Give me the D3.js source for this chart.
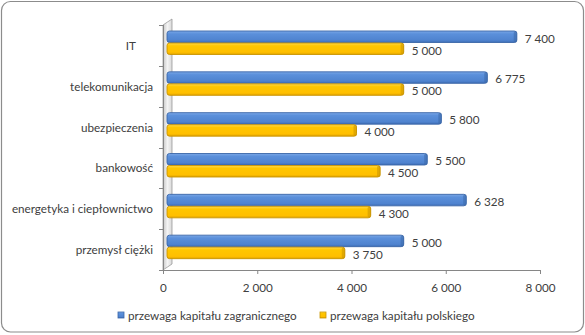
<!DOCTYPE html>
<html>
<head>
<meta charset="utf-8">
<script src="https://cdn.jsdelivr.net/npm/d3@7"></script>
<style>
  html, body { margin: 0; padding: 0; background: #fff; }
  svg { display: block; }
  text { font-family: "Lato", "Liberation Sans", sans-serif; fill: #404040; }
</style>
</head>
<body>
<svg id="chart" width="585" height="335"></svg>
<script>
// Sectors, top to bottom
const categories = ["IT", "telekomunikacja", "ubezpieczenia", "bankowość", "energetyka i ciepłownictwo", "przemysł ciężki"];
// Series values
const foreignValues = [7400, 6775, 5800, 5500, 6328, 5000];
const polishValues = [5000, 5000, 4000, 4500, 4300, 3750];
const seriesNames = ["przewaga kapitału zagranicznego", "przewaga kapitału polskiego"];
const xTicks = [0, 2000, 4000, 6000, 8000];

const FS = "11.7px";
const fmt = v => d3.format(",")(v).replace(/,/g, " ");

const svg = d3.select("#chart");
const defs = svg.append("defs");

function gradient(id, stops) {
  const g = defs.append("linearGradient").attr("id", id)
    .attr("x1", 0).attr("y1", 0).attr("x2", 0).attr("y2", 1);
  stops.forEach(([o, c]) => g.append("stop").attr("offset", o).attr("stop-color", c));
}
gradient("gBlue", [[0, "#7aa7e6"], [0.25, "#5b90db"], [0.8, "#4f83cf"], [1, "#3d6db5"]]);
gradient("gYellow", [[0, "#ffd84a"], [0.25, "#ffc600"], [0.8, "#ffbf00"], [1, "#e0a400"]]);
const wallGrad = defs.append("linearGradient").attr("id", "gWall")
  .attr("x1", 0).attr("y1", 0).attr("x2", 1).attr("y2", 0);
wallGrad.append("stop").attr("offset", 0).attr("stop-color", "#c8c8c8");
wallGrad.append("stop").attr("offset", 0.5).attr("stop-color", "#f4f4f4");
wallGrad.append("stop").attr("offset", 1).attr("stop-color", "#d8d8d8");

// Chart frame
svg.append("rect")
  .attr("x", 1.5).attr("y", 1.5).attr("width", 582).attr("height", 330.5)
  .attr("rx", 9).attr("fill", "#fff").attr("stroke", "#8c8c8c").attr("stroke-width", 1.2);

// Scales (front plane of the 3D box)
const x = d3.scaleLinear().domain([0, 8000]).range([163, 540]);
const y = d3.scaleBand().domain(categories).range([25, 270]);
const y1 = d3.scaleBand().domain(seriesNames).range([5, 29]);
const DX = 5, DY = -4;   // depth offset of the back plane
const colors = { [seriesNames[0]]: ["url(#gBlue)", "#3b67a8"], [seriesNames[1]]: ["url(#gYellow)", "#c99400"] };

// Side wall
const x0 = x(0);
svg.append("path")
  .attr("d", `M${x0},${y.range()[1]} L${x0},${y.range()[0]} L${x0 + DX + 4},${y.range()[0] + DY - 2} L${x0 + DX + 4},${y.range()[1] + DY - 2} Z`)
  .attr("fill", "url(#gWall)").attr("stroke", "#9a9a9a").attr("stroke-width", 0.8);

// Category axis line and ticks
svg.append("line").attr("x1", x0 + 0.5).attr("x2", x0 + 0.5)
  .attr("y1", y.range()[0]).attr("y2", y.range()[1]).attr("stroke", "#868686");
const bounds = categories.map(c => y(c)).concat([y.range()[1]]);
svg.selectAll("line.ytick").data(bounds).join("line")
  .attr("class", "ytick")
  .attr("x1", x0 - 4).attr("x2", x0)
  .attr("y1", d => Math.round(d) + 0.5).attr("y2", d => Math.round(d) + 0.5)
  .attr("stroke", "#868686");

// Value axis
const xAxis = svg.append("g").attr("transform", `translate(0,${y.range()[1]})`)
  .call(d3.axisBottom(x).tickValues(xTicks).tickFormat(fmt).tickSizeOuter(0).tickSize(4).tickPadding(10));
xAxis.select(".domain").attr("stroke", "#868686");
xAxis.selectAll(".tick line").attr("stroke", "#868686");
xAxis.selectAll(".tick text").attr("fill", "#404040").style("font-family", "Lato, 'Liberation Sans', sans-serif").style("font-size", FS);

// Category labels
svg.selectAll("text.cat").data(categories).join("text")
  .attr("class", "cat")
  .attr("x", d => d === "IT" ? 136 : 153)
  .attr("y", d => y(d) + y.bandwidth() / 2 + 4.5)
  .attr("text-anchor", "end")
  .style("font-size", FS)
  .text(d => d);

// Bars
const rows = [];
categories.forEach((c, i) => {
  rows.push({ cat: c, s: seriesNames[0], v: foreignValues[i] });
  rows.push({ cat: c, s: seriesNames[1], v: polishValues[i] });
});
const bar = svg.selectAll("g.bar").data(rows).join("g").attr("class", "bar");
bar.append("rect")
  .attr("x", x(0) + DX - 1)
  .attr("y", d => y(d.cat) + y1(d.s) + 1 + DY + 4)
  .attr("width", d => x(d.v) - x(0) + 1)
  .attr("height", y1.bandwidth() - 0.5)
  .attr("rx", 2.5)
  .attr("fill", d => colors[d.s][0])
  .attr("stroke", d => colors[d.s][1])
  .attr("stroke-width", 0.9);
// Rounded end face
bar.append("rect")
  .attr("x", d => x(d.v) + DX - 3)
  .attr("y", d => y(d.cat) + y1(d.s) + 1 + DY + 4)
  .attr("width", 3.5)
  .attr("height", y1.bandwidth() - 0.5)
  .attr("rx", 1.8)
  .attr("fill", d => colors[d.s][1])
  .attr("opacity", 0.55);

// Value labels
bar.append("text")
  .attr("x", d => x(d.v) + DX + 8)
  .attr("y", d => y(d.cat) + y1(d.s) + 1 + DY + 4 + y1.bandwidth() / 2 + 5.5)
  .style("font-size", FS)
  .text(d => fmt(d.v));

// Legend
const legendX = [118, 320];
const lg = svg.selectAll("g.legend").data(seriesNames).join("g")
  .attr("class", "legend")
  .attr("transform", (d, i) => `translate(${legendX[i]},312)`);
lg.append("rect").attr("width", 6).attr("height", 6)
  .attr("fill", d => colors[d][0]).attr("stroke", d => colors[d][1]).attr("stroke-width", 0.8);
lg.append("text").attr("x", 10).attr("y", 7.5).style("font-size", FS).text(d => d);
</script>
</body>
</html>
